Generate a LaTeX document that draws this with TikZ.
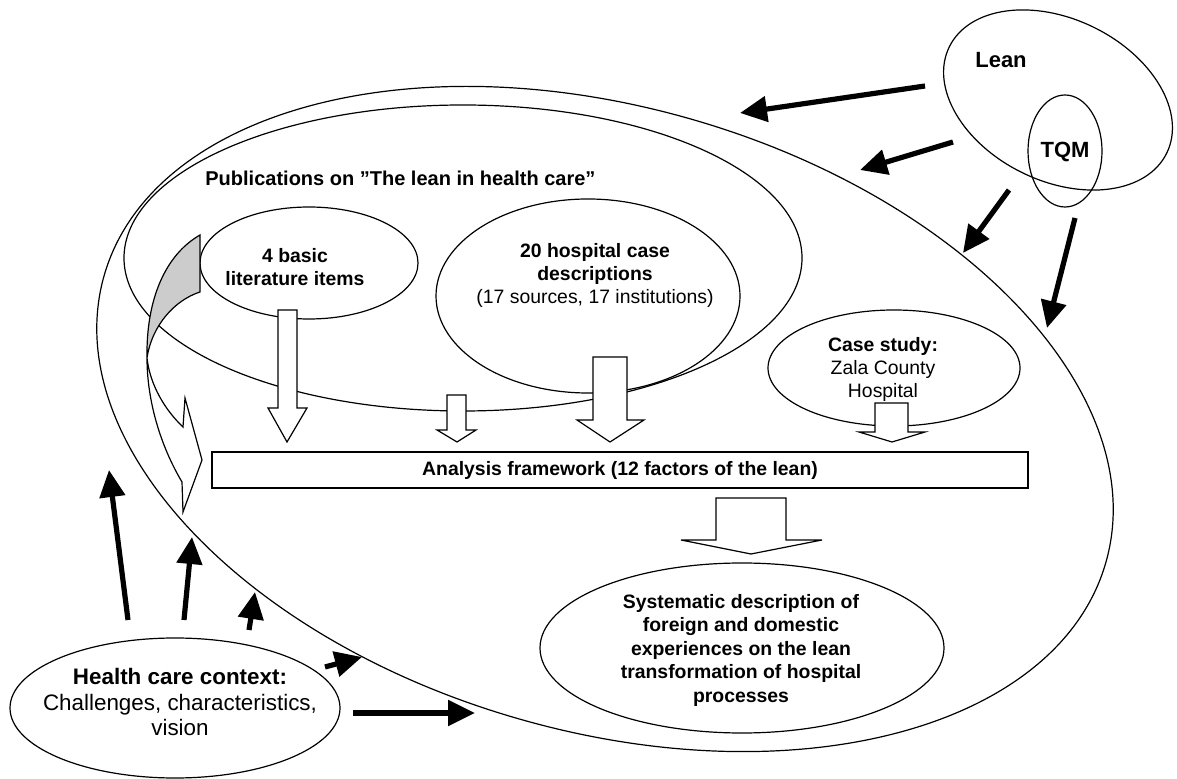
\documentclass[tikz,border=0pt]{standalone}
\usepackage{fontspec}
\setmainfont{Liberation Sans}
\usetikzlibrary{arrows.meta}

\tikzset{
  outline/.style={line width=0.6pt},
  hollow/.style={draw, fill=white, line width=0.6pt, line join=miter},
  heavy/.style={line width=2.6pt, -{Triangle[length=13.5pt,width=12.5pt]}},
  lbl/.style={inner sep=0pt, align=center, font=\fontsize{9.7}{11.5}\selectfont\bfseries},
}

\begin{document}
\begin{tikzpicture}[x=0.5pt,y=0.5pt,yscale=-1,xscale=1]
\useasboundingbox (0,0) rectangle (1177,779);
% frame and publication ellipses
\draw[outline, rotate around={16:(605,419)}] (605,419) ellipse [x radius=521, y radius=312];
\draw[outline] (463,258) ellipse [x radius=339, y radius=153];
\draw[outline] (309,263) ellipse [x radius=109, y radius=56];
\draw[outline] (588,296) ellipse [x radius=152, y radius=97];
\draw[outline] (894,368) ellipse [x radius=126, y radius=58];
\draw[outline] (742,648) ellipse [x radius=202, y radius=85];
\draw[outline] (175,708) ellipse [x radius=165, y radius=70];
% lean and tqm
\draw[outline, rotate around={26:(1058,100)}] (1058,100) ellipse [x radius=121, y radius=81];
\draw[outline] (1065,151) ellipse [x radius=37, y radius=56];

% curved arrow
\draw[outline, fill=black!20] (200,235) .. controls (165,255) and (146,300) .. (147,358) .. controls (152,325) and (175,300) .. (200,292) -- cycle;
\draw[hollow] (147,358) .. controls (147,400) and (160,445) .. (182,482) -- (183,512) -- (202,460) -- (185,398) -- (183,427) .. controls (165,410) and (150,385) .. (147,358) -- cycle;

% block arrows
\draw[hollow] (278,310) -- (278,408) -- (268,408) -- (287,442) -- (307,408) -- (297,408) -- (297,310) -- cycle;
\draw[hollow] (447,395) -- (447,430) -- (437,430) -- (457,442) -- (476,430) -- (466,430) -- (466,395) -- cycle;
\draw[hollow] (593,357) -- (593,420) -- (577,420) -- (610,442) -- (644,420) -- (627,420) -- (627,357) -- cycle;
\draw[hollow] (875,403) -- (875,432) -- (859,432) -- (892,442) -- (925,432) -- (908,432) -- (908,403) -- cycle;
\draw[hollow] (716,498) -- (716,540) -- (681,540) -- (751,554) -- (822,540) -- (786,540) -- (786,498) -- cycle;

\node[lbl, draw, fill=white, line width=0.6pt, minimum width=408pt, minimum height=18pt] (frame) at (620,470) {Analysis framework (12 factors of the lean)};

% texts
\node[lbl, font=\fontsize{11}{13}\selectfont\bfseries] (lean) at (1001,60) {Lean};
\node[lbl, font=\fontsize{11}{13}\selectfont\bfseries] (tqm) at (1065,152) {TQM};
\node[lbl, font=\fontsize{10}{12}\selectfont\bfseries, anchor=west] (pubs) at (205,178) {Publications on ”The lean in health care”};
\node[lbl] (basic) at (295,267) {4 basic\\literature items};
\node[lbl] (cases) at (595,275) {20 hospital case\\descriptions\\{\mdseries (17 sources, 17 institutions)}};
\node[lbl] (zala) at (883,369) {Case study:\\{\mdseries Zala County}\\{\mdseries Hospital}};
\node[lbl, font=\fontsize{9.7}{11.75}\selectfont\bfseries] (result) at (741,650) {Systematic description of\\foreign and domestic\\experiences on the lean\\transformation of hospital\\processes};
\node[lbl, font=\fontsize{11.2}{12.75}\selectfont] (context) at (180,702) {\textbf{Health care context:}\\Challenges, characteristics,\\vision};

% arrow ends
\coordinate (l1) at (925,86);   \coordinate (f1) at (740,113);
\coordinate (l2) at (953,142);  \coordinate (f2) at (860,170);
\coordinate (l3) at (1009,190); \coordinate (f3) at (963,253);
\coordinate (l4) at (1075,218); \coordinate (f4) at (1047,328);
\coordinate (h1) at (128,620);  \coordinate (g1) at (109,470);
\coordinate (h2) at (184,620);  \coordinate (g2) at (192,537);
\coordinate (h3) at (249,630);  \coordinate (g3) at (255,592);
\coordinate (h4) at (325,667);  \coordinate (g4) at (362,657);
\coordinate (h5) at (353,713);  \coordinate (g5) at (475,713);

\foreach \a/\b in {l1/f1,l2/f2,l3/f3,l4/f4,h1/g1,h2/g2,h3/g3,h4/g4,h5/g5}
  \draw[heavy] (\a) -- (\b);
\end{tikzpicture}
\end{document}
